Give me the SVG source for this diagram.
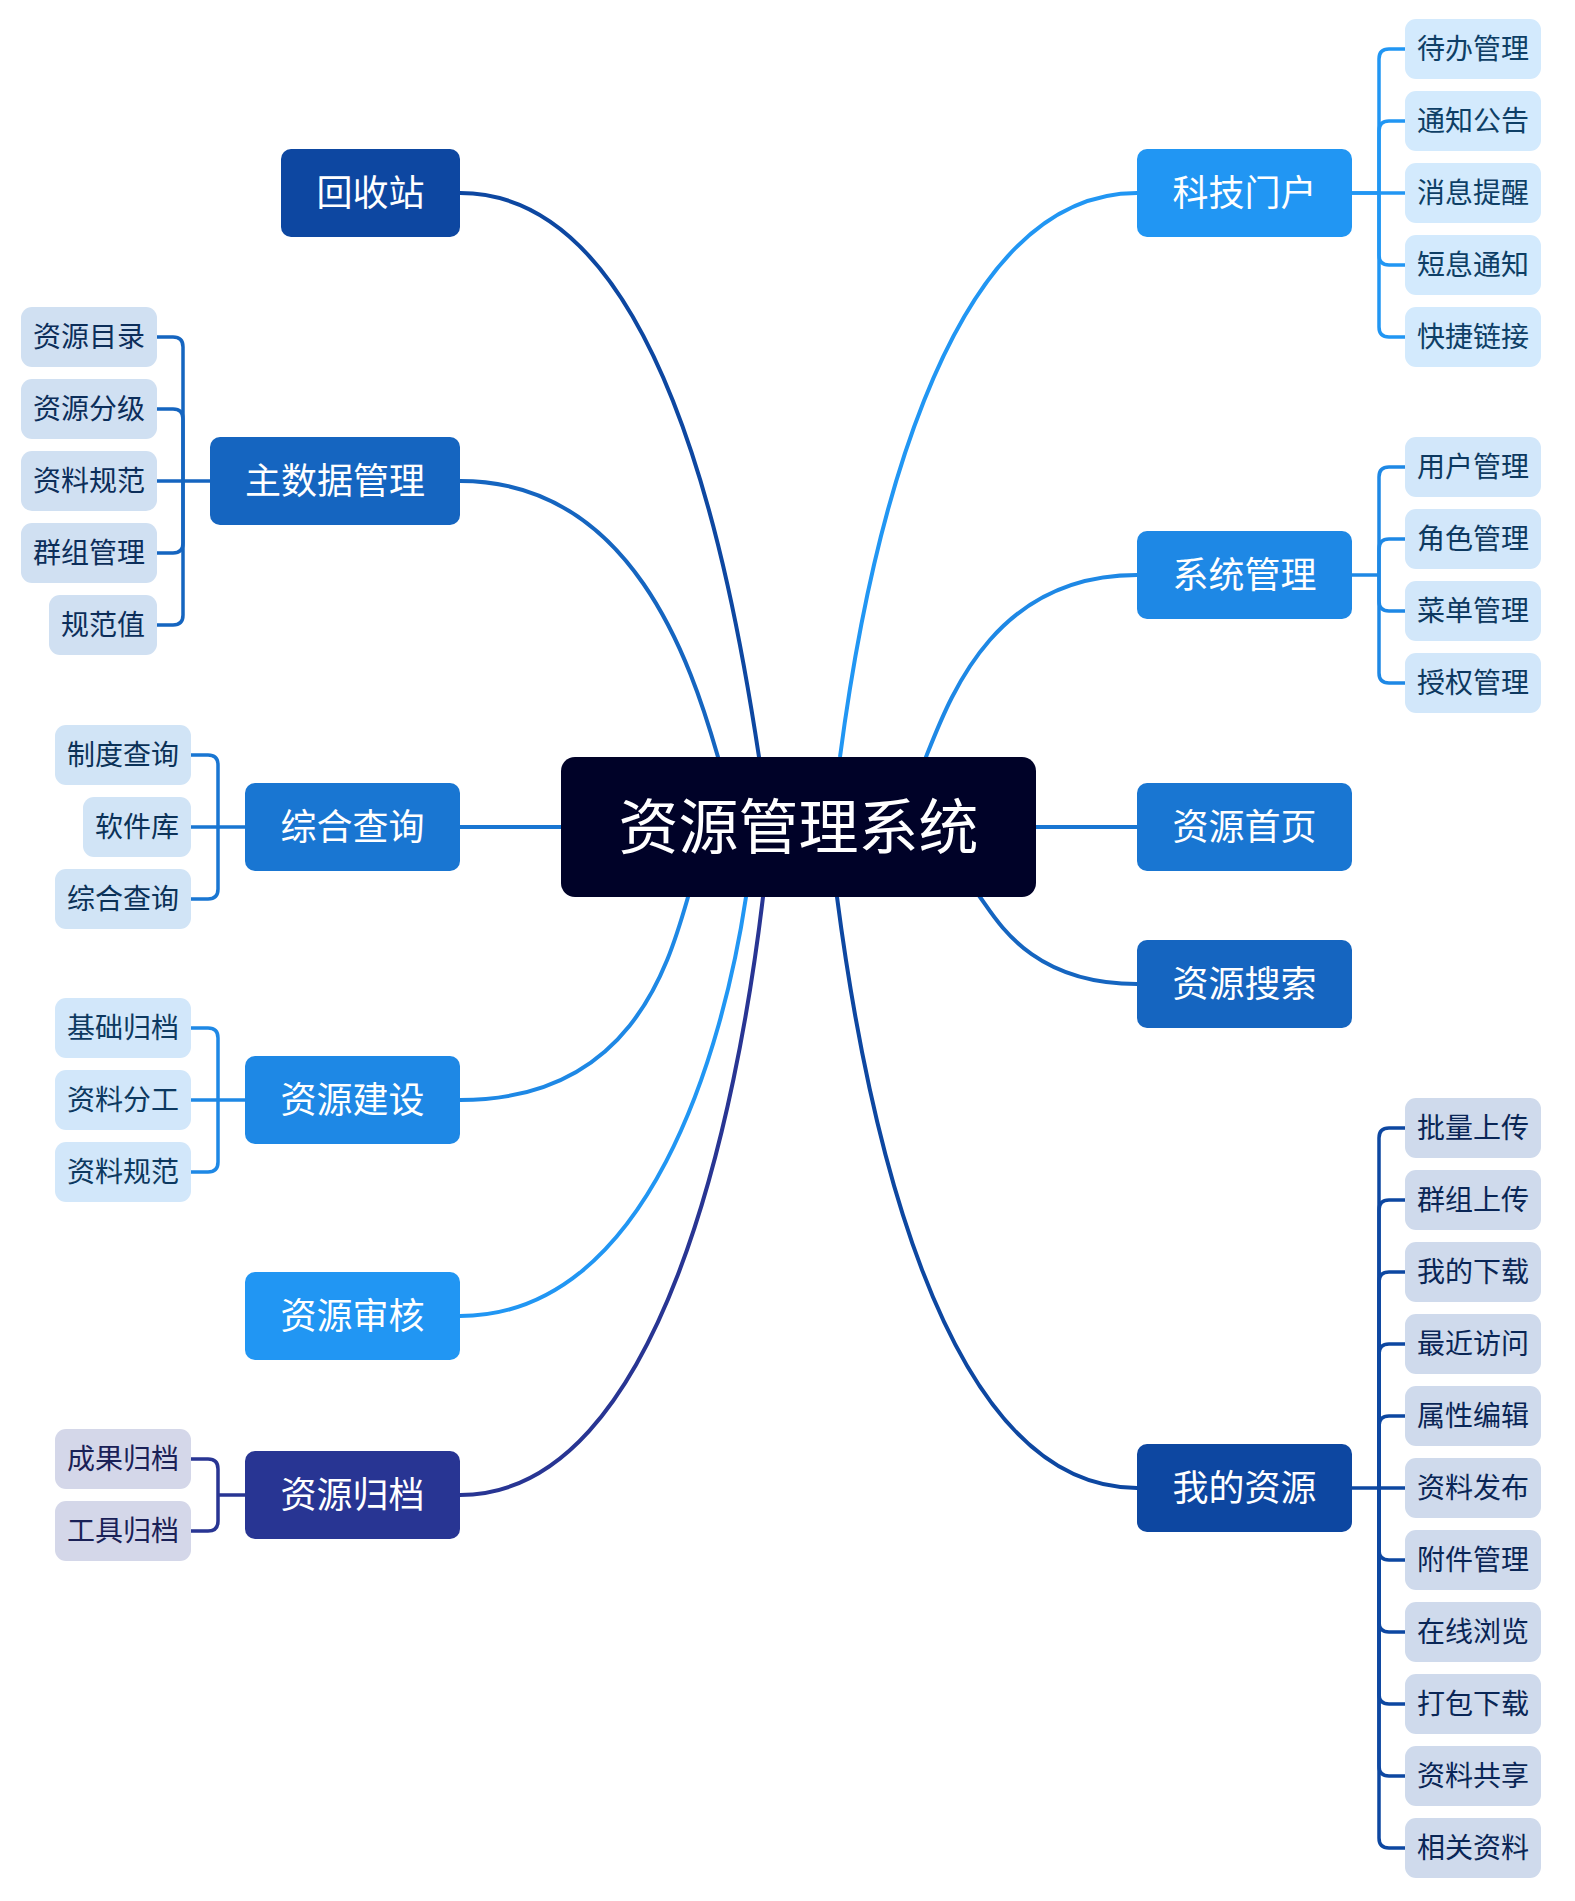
<svg xmlns="http://www.w3.org/2000/svg" width="1575" height="1901" viewBox="0 0 1575 1901">
<style>
text{font-family:"Noto Sans CJK SC","Noto Sans",sans-serif;text-anchor:middle}
.root rect{fill:#000228}
.root text{fill:#ffffff;font-size:60px}
.main text{fill:#ffffff;font-size:36px}
.leaf text{font-size:28px}
.c path{fill:none;stroke-width:4;stroke-linecap:round;stroke-linejoin:round}
.b path{fill:none;stroke-width:3.5;stroke-linecap:butt;stroke-linejoin:round}
.k1{fill:#2196F3}.k2{fill:#1E88E5}.k3{fill:#1976D2}.k4{fill:#1565C0}.k5{fill:#0D47A1}.k6{fill:#283593}
.s1{stroke:#2196F3}.s2{stroke:#1E88E5}.s3{stroke:#1976D2}.s4{stroke:#1565C0}.s5{stroke:#0D47A1}.s6{stroke:#283593}
.l1 rect{fill:#D3EAFD}.l1 text{fill:#0E3F66}
.l2 rect{fill:#D2E7FA}.l2 text{fill:#0D3960}
.l3 rect{fill:#D1E4F6}.l3 text{fill:#0B3258}
.l4 rect{fill:#D0E0F2}.l4 text{fill:#0C2E5A}
.l5 rect{fill:#CFDAEC}.l5 text{fill:#0A2656}
.l6 rect{fill:#D4D7E9}.l6 text{fill:#1A2157}
</style>
<rect width="1575" height="1901" fill="#ffffff"/>
<g id="connectors">
<g class="c">
<path class="s5" d="M460 193 C659 193 729 559 759 757 L770 827"/>
<path class="s4" d="M460 481 C632 481 691 663 718 757 L738 827"/>
<path class="s3" d="M460 827 H570"/>
<path class="s2" d="M460 1100 C631 1100 668 966 688 897 L708 827"/>
<path class="s1" d="M460 1316 C650 1316 724 1044 746 897 L756 827"/>
<path class="s6" d="M460 1495 C662 1495 738 1107 763 897 L771 827"/>
<path class="s1" d="M1137 193 C939 193 866 559 840 757 L829 827"/>
<path class="s2" d="M1137 575 C994 575 950 697 926 757 L897 827"/>
<path class="s3" d="M1030 827 H1137"/>
<path class="s4" d="M1137 984 C1032 984 998 922 980 897 L939 840"/>
<path class="s5" d="M1137 1488 C937 1488 864 1104 837 897 L828 827"/>
</g>
<g class="b">
<g class="s1">
<path d="M1352 193 H1379 V59 Q1379 49 1389 49 H1405"/>
<path d="M1379 193 V131 Q1379 121 1389 121 H1405"/>
<path d="M1352 193 H1405"/>
<path d="M1379 193 V255 Q1379 265 1389 265 H1405"/>
<path d="M1379 193 V327 Q1379 337 1389 337 H1405"/>
</g>
<g class="s2">
<path d="M1352 575 H1379"/>
<path d="M1379 575 V477 Q1379 467 1389 467 H1405"/>
<path d="M1379 575 V549 Q1379 539 1389 539 H1405"/>
<path d="M1379 575 V601 Q1379 611 1389 611 H1405"/>
<path d="M1379 575 V673 Q1379 683 1389 683 H1405"/>
</g>
<g class="s5">
<path d="M1352 1488 H1405"/>
<path d="M1379 1488 V1138 Q1379 1128 1389 1128 H1405"/>
<path d="M1379 1488 V1210 Q1379 1200 1389 1200 H1405"/>
<path d="M1379 1488 V1282 Q1379 1272 1389 1272 H1405"/>
<path d="M1379 1488 V1354 Q1379 1344 1389 1344 H1405"/>
<path d="M1379 1488 V1426 Q1379 1416 1389 1416 H1405"/>
<path d="M1379 1488 V1550 Q1379 1560 1389 1560 H1405"/>
<path d="M1379 1488 V1622 Q1379 1632 1389 1632 H1405"/>
<path d="M1379 1488 V1694 Q1379 1704 1389 1704 H1405"/>
<path d="M1379 1488 V1766 Q1379 1776 1389 1776 H1405"/>
<path d="M1379 1488 V1838 Q1379 1848 1389 1848 H1405"/>
</g>
<g class="s4">
<path d="M210 481 H157"/>
<path d="M183 481 V347 Q183 337 173 337 H157"/>
<path d="M183 481 V419 Q183 409 173 409 H157"/>
<path d="M183 481 V543 Q183 553 173 553 H157"/>
<path d="M183 481 V615 Q183 625 173 625 H157"/>
</g>
<g class="s3">
<path d="M245 827 H191"/>
<path d="M218 827 V765 Q218 755 208 755 H191"/>
<path d="M218 827 V889 Q218 899 208 899 H191"/>
</g>
<g class="s2">
<path d="M245 1100 H191"/>
<path d="M218 1100 V1038 Q218 1028 208 1028 H191"/>
<path d="M218 1100 V1162 Q218 1172 208 1172 H191"/>
</g>
<g class="s6">
<path d="M245 1495 H218"/>
<path d="M218 1495 V1469 Q218 1459 208 1459 H191"/>
<path d="M218 1495 V1521 Q218 1531 208 1531 H191"/>
</g>
</g>
</g>
<g id="root" class="root"><rect x="561" y="757" width="475" height="140" rx="14"/><text x="798.5" y="849">资源管理系统</text></g>
<g id="n-huishouzhan" class="main"><rect class="k5" x="281" y="149" width="179" height="88" rx="10"/><text x="370.5" y="206">回收站</text></g>
<g id="n-zhushuju" class="main"><rect class="k4" x="210" y="437" width="250" height="88" rx="10"/><text x="335" y="494">主数据管理</text></g>
<g id="n-zonghe" class="main"><rect class="k3" x="245" y="783" width="215" height="88" rx="10"/><text x="352.5" y="840">综合查询</text></g>
<g id="n-jianshe" class="main"><rect class="k2" x="245" y="1056" width="215" height="88" rx="10"/><text x="352.5" y="1113">资源建设</text></g>
<g id="n-shenhe" class="main"><rect class="k1" x="245" y="1272" width="215" height="88" rx="10"/><text x="352.5" y="1329">资源审核</text></g>
<g id="n-guidang" class="main"><rect class="k6" x="245" y="1451" width="215" height="88" rx="10"/><text x="352.5" y="1508">资源归档</text></g>
<g id="n-menhu" class="main"><rect class="k1" x="1137" y="149" width="215" height="88" rx="10"/><text x="1244.5" y="206">科技门户</text></g>
<g id="n-xitong" class="main"><rect class="k2" x="1137" y="531" width="215" height="88" rx="10"/><text x="1244.5" y="588">系统管理</text></g>
<g id="n-shouye" class="main"><rect class="k3" x="1137" y="783" width="215" height="88" rx="10"/><text x="1244.5" y="840">资源首页</text></g>
<g id="n-sousuo" class="main"><rect class="k4" x="1137" y="940" width="215" height="88" rx="10"/><text x="1244.5" y="997">资源搜索</text></g>
<g id="n-wode" class="main"><rect class="k5" x="1137" y="1444" width="215" height="88" rx="10"/><text x="1244.5" y="1501">我的资源</text></g>
<g id="l-daiban" class="leaf l1"><rect x="1405" y="19" width="136" height="60" rx="11"/><text x="1473" y="59">待办管理</text></g>
<g id="l-tongzhi" class="leaf l1"><rect x="1405" y="91" width="136" height="60" rx="11"/><text x="1473" y="131">通知公告</text></g>
<g id="l-xiaoxi" class="leaf l1"><rect x="1405" y="163" width="136" height="60" rx="11"/><text x="1473" y="203">消息提醒</text></g>
<g id="l-duanxi" class="leaf l1"><rect x="1405" y="235" width="136" height="60" rx="11"/><text x="1473" y="275">短息通知</text></g>
<g id="l-kuaijie" class="leaf l1"><rect x="1405" y="307" width="136" height="60" rx="11"/><text x="1473" y="347">快捷链接</text></g>
<g id="l-yonghu" class="leaf l2"><rect x="1405" y="437" width="136" height="60" rx="11"/><text x="1473" y="477">用户管理</text></g>
<g id="l-jiaose" class="leaf l2"><rect x="1405" y="509" width="136" height="60" rx="11"/><text x="1473" y="549">角色管理</text></g>
<g id="l-caidan" class="leaf l2"><rect x="1405" y="581" width="136" height="60" rx="11"/><text x="1473" y="621">菜单管理</text></g>
<g id="l-shouquan" class="leaf l2"><rect x="1405" y="653" width="136" height="60" rx="11"/><text x="1473" y="693">授权管理</text></g>
<g id="l-piliang" class="leaf l5"><rect x="1405" y="1098" width="136" height="60" rx="11"/><text x="1473" y="1138">批量上传</text></g>
<g id="l-qunzushang" class="leaf l5"><rect x="1405" y="1170" width="136" height="60" rx="11"/><text x="1473" y="1210">群组上传</text></g>
<g id="l-xiazai" class="leaf l5"><rect x="1405" y="1242" width="136" height="60" rx="11"/><text x="1473" y="1282">我的下载</text></g>
<g id="l-zuijin" class="leaf l5"><rect x="1405" y="1314" width="136" height="60" rx="11"/><text x="1473" y="1354">最近访问</text></g>
<g id="l-shuxing" class="leaf l5"><rect x="1405" y="1386" width="136" height="60" rx="11"/><text x="1473" y="1426">属性编辑</text></g>
<g id="l-fabu" class="leaf l5"><rect x="1405" y="1458" width="136" height="60" rx="11"/><text x="1473" y="1498">资料发布</text></g>
<g id="l-fujian" class="leaf l5"><rect x="1405" y="1530" width="136" height="60" rx="11"/><text x="1473" y="1570">附件管理</text></g>
<g id="l-liulan" class="leaf l5"><rect x="1405" y="1602" width="136" height="60" rx="11"/><text x="1473" y="1642">在线浏览</text></g>
<g id="l-dabao" class="leaf l5"><rect x="1405" y="1674" width="136" height="60" rx="11"/><text x="1473" y="1714">打包下载</text></g>
<g id="l-gongxiang" class="leaf l5"><rect x="1405" y="1746" width="136" height="60" rx="11"/><text x="1473" y="1786">资料共享</text></g>
<g id="l-xiangguan" class="leaf l5"><rect x="1405" y="1818" width="136" height="60" rx="11"/><text x="1473" y="1858">相关资料</text></g>
<g id="l-mulu" class="leaf l4"><rect x="21" y="307" width="136" height="60" rx="11"/><text x="89" y="347">资源目录</text></g>
<g id="l-fenji" class="leaf l4"><rect x="21" y="379" width="136" height="60" rx="11"/><text x="89" y="419">资源分级</text></g>
<g id="l-guifan1" class="leaf l4"><rect x="21" y="451" width="136" height="60" rx="11"/><text x="89" y="491">资料规范</text></g>
<g id="l-qunzu" class="leaf l4"><rect x="21" y="523" width="136" height="60" rx="11"/><text x="89" y="563">群组管理</text></g>
<g id="l-guifanzhi" class="leaf l4"><rect x="49" y="595" width="108" height="60" rx="11"/><text x="103" y="635">规范值</text></g>
<g id="l-zhidu" class="leaf l3"><rect x="55" y="725" width="136" height="60" rx="11"/><text x="123" y="765">制度查询</text></g>
<g id="l-ruanjian" class="leaf l3"><rect x="83" y="797" width="108" height="60" rx="11"/><text x="137" y="837">软件库</text></g>
<g id="l-zonghe2" class="leaf l3"><rect x="55" y="869" width="136" height="60" rx="11"/><text x="123" y="909">综合查询</text></g>
<g id="l-jichu" class="leaf l2"><rect x="55" y="998" width="136" height="60" rx="11"/><text x="123" y="1038">基础归档</text></g>
<g id="l-fengong" class="leaf l2"><rect x="55" y="1070" width="136" height="60" rx="11"/><text x="123" y="1110">资料分工</text></g>
<g id="l-guifan2" class="leaf l2"><rect x="55" y="1142" width="136" height="60" rx="11"/><text x="123" y="1182">资料规范</text></g>
<g id="l-chengguo" class="leaf l6"><rect x="55" y="1429" width="136" height="60" rx="11"/><text x="123" y="1469">成果归档</text></g>
<g id="l-gongju" class="leaf l6"><rect x="55" y="1501" width="136" height="60" rx="11"/><text x="123" y="1541">工具归档</text></g>
</svg>
